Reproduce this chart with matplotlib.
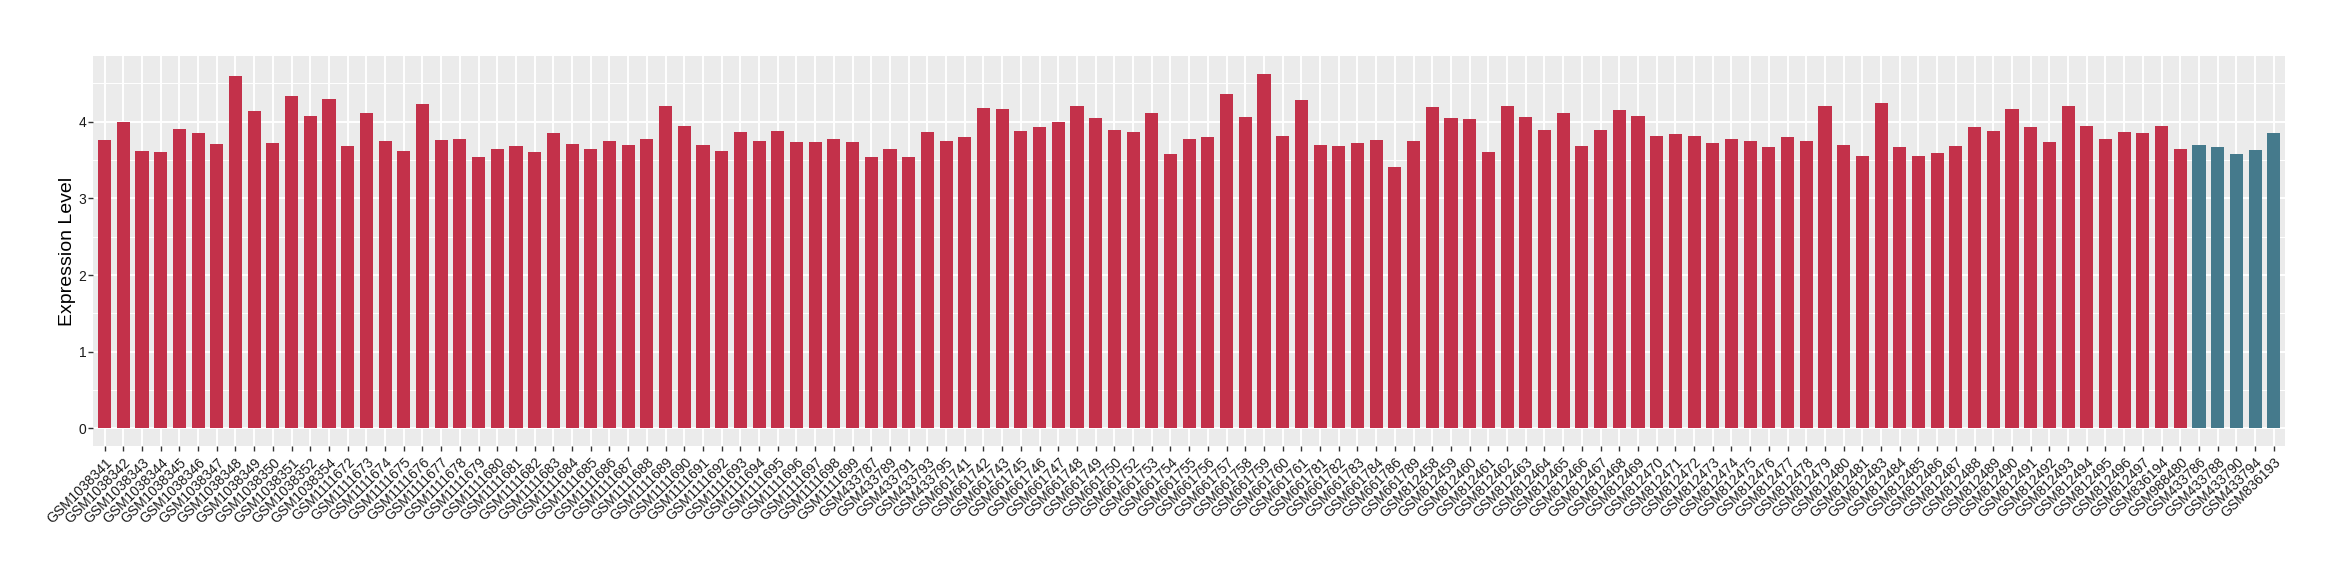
import numpy as np
import matplotlib
matplotlib.use("Agg")
import matplotlib.pyplot as plt

plt.rcParams['font.family'] = ['Liberation Sans', 'DejaVu Sans']

#  sample names, in plotting order
samples_a = (
    ["GSM10383%d" % i for i in [41, 42, 43, 44, 45, 46, 47, 48, 49, 50, 51, 52, 54]]
    + ["GSM11116%d" % i for i in range(72, 100)]
    + ["GSM4337%d" % i for i in [87, 89, 91, 93, 95]]
    + ["GSM6617%d" % i for i in [41, 42, 43, 45, 46, 47, 48, 49, 50, 52, 53, 54, 55, 56, 57, 58, 59, 60, 61,
                                 81, 82, 83, 84, 86, 89]]
    + ["GSM8124%d" % i for i in list(range(58, 82)) + list(range(83, 98))]
    + ["GSM836194", "GSM988480"]
)
samples_b = ["GSM433786", "GSM433788", "GSM433790", "GSM433794", "GSM836193"]

#  expression values
values_a = [
    3.76, 3.99, 3.62, 3.60, 3.91, 3.85, 3.71, 4.59, 4.14, 3.72, 4.33, 4.07, 4.29,
    3.68, 4.12, 3.75, 3.62, 4.23, 3.76, 3.78, 3.54, 3.65, 3.68, 3.60, 3.85, 3.71,
    3.65, 3.75, 3.69, 3.78, 4.21, 3.95, 3.69, 3.62, 3.86, 3.75, 3.88, 3.73, 3.73,
    3.78, 3.73,
    3.54, 3.65, 3.54, 3.86, 3.75,
    3.80, 4.18, 4.16, 3.88, 3.93, 3.99, 4.20, 4.05, 3.89, 3.86, 4.12, 3.58, 3.78,
    3.80, 4.36, 4.06, 4.62, 3.81, 4.28,
    3.69, 3.68, 3.72, 3.76, 3.41, 3.75,
    4.19, 4.05, 4.03, 3.60, 4.20, 4.06, 3.89, 4.11, 3.68, 3.89, 4.15, 4.07, 3.82,
    3.84, 3.81, 3.72, 3.78, 3.75, 3.67, 3.80, 3.75, 4.21, 3.69, 3.55,
    4.24, 3.67, 3.55, 3.59, 3.68, 3.93, 3.88, 4.16, 3.93, 3.73, 4.21, 3.95, 3.78,
    3.86, 3.85,
    3.95, 3.64,
]
values_b = [3.69, 3.67, 3.58, 3.63, 3.85]

color_a = "#C3314A"
color_b = "#457A8C"

labels = samples_a + samples_b
vals = values_a + values_b
cols = [color_a] * len(samples_a) + [color_b] * len(samples_b)
x = np.arange(len(labels))

fig = plt.figure(figsize=(23.4, 5.8), dpi=100)
ax = fig.add_axes([0.0399, 0.231, 0.9366, 0.6716])

ax.set_facecolor("#EBEBEB")
ax.bar(x, vals, width=0.7, color=cols, zorder=3)

#  ggplot style 5% / 0.6 expansion
ymax = max(vals)
ax.set_xlim(-0.6, len(labels) - 0.4)
ax.set_ylim(-0.05 * ymax, 1.05 * ymax)

ax.set_yticks([0, 1, 2, 3, 4])
ax.set_yticks([0.5, 1.5, 2.5, 3.5, 4.5], minor=True)
ax.set_xticks(x)
ax.set_xticklabels(labels, rotation=45, ha="right", rotation_mode="anchor", fontsize=10)
ax.tick_params(axis="y", labelsize=10, length=3.6, width=1, color="#333333", labelcolor="#1A1A1A", pad=1.5)
ax.tick_params(axis="y", which="minor", length=0)
ax.tick_params(axis="x", length=3.6, width=1, color="#333333", labelcolor="#1A1A1A", pad=3)

ax.grid(True, which="major", color="white", linewidth=1.4, zorder=0)
ax.grid(True, which="minor", axis="y", color="white", linewidth=0.7, zorder=0)
ax.set_axisbelow(True)
for s in ax.spines.values():
    s.set_visible(False)

ax.set_ylabel("Expression Level", fontsize=14)
ax.yaxis.set_label_coords(-0.0079, 0.5)

fig.savefig("out.png", dpi=100)
